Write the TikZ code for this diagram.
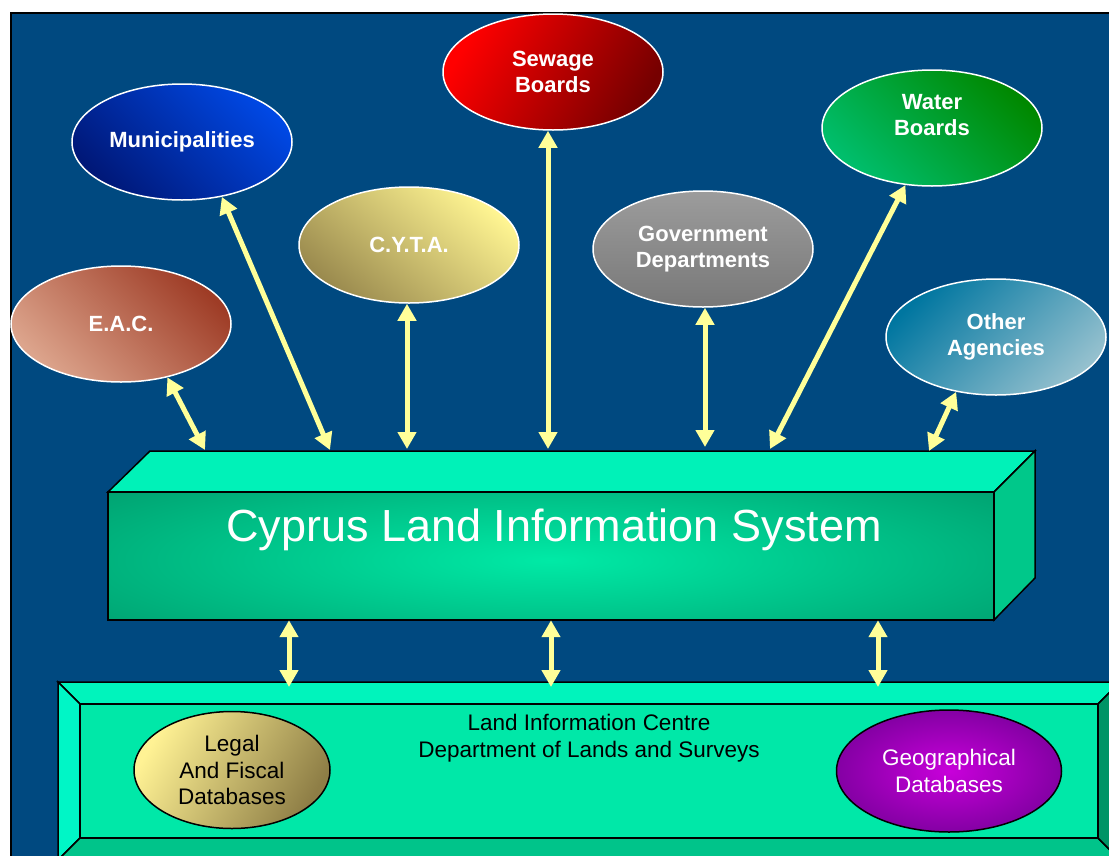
\documentclass[tikz,border=0pt]{standalone}
\usepackage{fontspec}
\setmainfont{Liberation Sans}
\usetikzlibrary{arrows.meta,shapes.geometric}
\definecolor{navy}{HTML}{004980}
\definecolor{arrowc}{HTML}{FFFF99}
\definecolor{topface}{HTML}{00F2B8}
\definecolor{sideface}{HTML}{00C88A}
\definecolor{bevtop}{HTML}{00F4BC}
\definecolor{bevleft}{HTML}{00F6C6}
\definecolor{bevbot}{HTML}{00C48A}
\definecolor{bevright}{HTML}{009466}
\definecolor{innerface}{HTML}{00E8A8}
\definecolor{eacA}{HTML}{9E3C26}\definecolor{eacB}{HTML}{DCA48C}
\definecolor{muniA}{HTML}{0048E4}\definecolor{muniB}{HTML}{001878}
\definecolor{cytaA}{HTML}{FFF592}\definecolor{cytaB}{HTML}{9A8A4E}
\definecolor{sewA}{HTML}{FF0000}\definecolor{sewB}{HTML}{760000}
\definecolor{govA}{HTML}{9C9C9C}\definecolor{govB}{HTML}{787878}
\definecolor{watA}{HTML}{008800}\definecolor{watB}{HTML}{00BE6C}
\definecolor{othA}{HTML}{0076A0}\definecolor{othB}{HTML}{94C0CE}
\definecolor{frontB}{HTML}{00EAA6}
\definecolor{frontEdge}{HTML}{00835A}
\definecolor{legA}{HTML}{FFF294}\definecolor{legB}{HTML}{8E7E46}
\definecolor{geoA}{HTML}{C800DA}\definecolor{geoB}{HTML}{8400A4}
\tikzset{
  oval/.style={ellipse, draw=white, line width=1.5pt, minimum width=220pt, minimum height=116pt, inner sep=0pt,
    text=white, align=center, font=\fontsize{22}{26}\selectfont\bfseries},
  dbase/.style={ellipse, draw=black, line width=1.5pt, inner sep=0pt, align=center,
    font=\fontsize{22.5}{26.5}\selectfont},
  conn/.style={draw=arrowc, line width=5pt, {Triangle[length=17pt,width=18pt]}-{Triangle[length=17pt,width=18pt]}},
  edge3d/.style={draw=black, line width=1.5pt, line join=miter},
}
\begin{document}
\begin{tikzpicture}[x=1pt,y=-1pt]
\useasboundingbox (0,0) rectangle (1109,855);
\begin{scope}
\clip (0,0) rectangle (1109,855);
\fill[white] (0,0) rectangle (1109,855);
\draw[line width=2.5pt, fill=navy] (11,13) rectangle (1140,890);

% ---- Upper ellipses ----
\node[oval, top color=eacA, bottom color=eacB, shading angle=-45] (eac) at (121,324) {E.A.C.};
\node[oval, top color=muniA, bottom color=muniB, shading angle=-45] (muni) at (182,142) {Municipalities};
\node[oval, top color=cytaA, bottom color=cytaB, shading angle=-40] (cyta) at (409,245) {C.Y.T.A.};
\node[oval, top color=sewA, bottom color=sewB, shading angle=60] (sewage) at (553,72) {Sewage\\Boards};
\node[oval, top color=govA, bottom color=govB] (gov) at (703,249) {Government\\Departments};
\node[oval, top color=watA, bottom color=watB, shading angle=-45] (water) at (932,128) {Water\\Boards\\\mbox{}};
\node[oval, top color=othA, bottom color=othB, shading angle=45] (other) at (996,337) {Other\\Agencies};

% ---- 3D box ----
\filldraw[edge3d, fill=topface] (108,492) -- (150,451) -- (1035,451) -- (994,492) -- cycle;
\filldraw[edge3d, fill=sideface] (994,492) -- (1035,451) -- (1035,578) -- (994,620) -- cycle;
\node[rectangle, minimum width=886pt, minimum height=128pt, inner sep=0pt, fill=frontEdge] (cls) at (551,556) {};
\begin{scope}
  \clip (108,492) rectangle (994,620);
  \shade[inner color=frontB, outer color=frontEdge] (551,560) ellipse (820 and 160);
\end{scope}
\draw[edge3d] (108,492) rectangle (994,620);
\node[text=white, anchor=base, font=\fontsize{45}{54}\selectfont] (title) at (554,541) {Cyprus Land Information System};

% ---- Lower frame ----
\filldraw[edge3d, fill=bevtop] (58,682) -- (1120,682) -- (1098,704) -- (80,704) -- cycle;
\filldraw[edge3d, fill=bevleft] (58,682) -- (80,704) -- (80,838) -- (58,860) -- cycle;
\filldraw[edge3d, fill=bevbot] (80,838) -- (1098,838) -- (1120,860) -- (58,860) -- cycle;
\filldraw[edge3d, fill=bevright] (1098,704) -- (1120,682) -- (1120,860) -- (1098,838) -- cycle;
\node[rectangle, minimum width=1018pt, minimum height=134pt, inner sep=0pt, draw=black, line width=1.5pt,
  fill=innerface] (frame) at (589,771) {};
\node[align=center, font=\fontsize{22.5}{27}\selectfont, text=black] (lic) at (589,738)
  {Land Information Centre\\Department of Lands and Surveys};
\node[dbase, minimum width=196pt, minimum height=117pt, top color=legA, bottom color=legB, shading angle=60, text=black]
  (legal) at (232,770) {Legal\\And Fiscal\\Databases};
\node[dbase, minimum width=225pt, minimum height=122pt, inner color=geoA, outer color=geoB, text=white]
  (geo) at (949,771) {Geographical\\Databases};

% ---- Connectors ----
\coordinate (t1) at (205,450);
\coordinate (t2) at (330,450);
\coordinate (t3) at (407,449);
\coordinate (t4) at (548,449);
\coordinate (t5) at (705,447);
\coordinate (t6) at (770,449);
\coordinate (t7) at (929,451);
\draw[conn] (eac.-49) -- (t1);
\draw[conn] (muni.-54) -- (t2);
\draw[conn] (t3 |- cyta.south) -- (t3);
\draw[conn] (t4 |- sewage.south) -- (t4);
\draw[conn] (t5 |- gov.south) -- (t5);
\draw[conn] (water.-115) -- (t6);
\draw[conn] (other.-126) -- (t7);
\coordinate (b1) at (289,687);
\coordinate (b2) at (551,687);
\coordinate (b3) at (878,687);
\draw[conn] (b1 |- cls.south) -- (b1);
\draw[conn] (b2 |- cls.south) -- (b2);
\draw[conn] (b3 |- cls.south) -- (b3);
\end{scope}
\end{tikzpicture}
\end{document}
